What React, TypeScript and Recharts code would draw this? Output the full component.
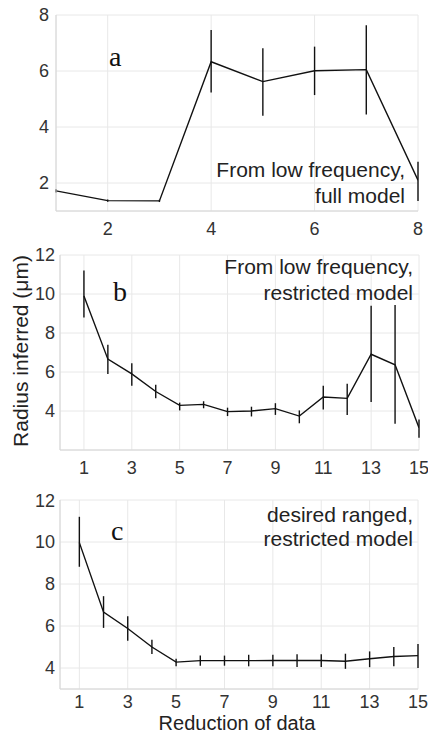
import React from 'react';
import { LineChart, Line, XAxis, YAxis, CartesianGrid, ErrorBar } from 'recharts';

const aX = [1, 2, 3, 4, 5, 6, 7, 8];
const aMean = [1.72, 1.37, 1.36, 6.33, 5.62, 6.01, 6.05, 2.1];
const aLow = [1.66, 1.33, 1.32, 5.23, 4.4, 5.14, 4.45, 1.36];
const aHigh = [1.78, 1.41, 1.4, 7.46, 6.81, 6.87, 7.63, 2.76];

const bcX = [1, 2, 3, 4, 5, 6, 7, 8, 9, 10, 11, 12, 13, 14, 15];
const bMean = [9.9, 6.66, 5.9, 5.0, 4.29, 4.34, 3.97, 4.0, 4.12, 3.74, 4.72, 4.65, 6.91, 6.37, 3.14];
const bLow = [8.8, 5.9, 5.3, 4.65, 4.03, 4.14, 3.74, 3.72, 3.8, 3.37, 4.08, 3.8, 4.46, 3.35, 2.63];
const bHigh = [11.2, 7.4, 6.45, 5.35, 4.43, 4.5, 4.17, 4.22, 4.4, 4.03, 5.3, 5.4, 9.4, 9.43, 3.57];

const cMean = [9.97, 6.66, 5.88, 5.0, 4.28, 4.35, 4.35, 4.35, 4.36, 4.36, 4.36, 4.32, 4.44, 4.55, 4.59];
const cLow = [8.82, 5.91, 5.3, 4.67, 4.08, 4.11, 4.11, 4.08, 4.08, 4.05, 4.05, 3.96, 4.04, 4.08, 4.0];
const cHigh = [11.2, 7.42, 6.46, 5.35, 4.44, 4.59, 4.59, 4.63, 4.63, 4.66, 4.66, 4.68, 4.79, 5.0, 5.14];

const aXTicks = [2, 4, 6, 8];
const aYTicks = [2, 4, 6, 8];
const bcXTicks = [1, 3, 5, 7, 9, 11, 13, 15];
const bcYTicks = [4, 6, 8, 10, 12];

const build = (xs: number[], m: number[], lo: number[], hi: number[]) =>
  xs.map((x, i) => ({ x, y: m[i], err: [m[i] - lo[i], hi[i] - m[i]] }));

const aData = build(aX, aMean, aLow, aHigh);
const bData = build(bcX, bMean, bLow, bHigh);
const cData = build(bcX, cMean, cLow, cHigh);

const FONT = '"Liberation Sans", Arial, Helvetica, sans-serif';
const tickStyle = { fill: '#333', fontSize: 18, fontFamily: FONT };
const GRID = '#e8e8e8';
const FRAME = '#d6d6d6';

type PanelProps = {
  data: any[];
  top: number;
  height: number;
  margin: any;
  yWidth: number;
  xHeight: number;
  xDomain: [number, number];
  yDomain: [number, number];
  xTicks: number[];
  yTicks: number[];
  yTickMargin: number;
  xTickMargin: number;
};

function Panel(p: PanelProps) {
  return (
    <div style={{ position: 'absolute', left: 0, top: p.top }}>
      <LineChart width={428} height={p.height} data={p.data} margin={p.margin}>
        <CartesianGrid stroke={GRID} strokeWidth={1} />
        <XAxis
          dataKey="x"
          type="number"
          domain={p.xDomain}
          ticks={p.xTicks}
          allowDataOverflow
          height={p.xHeight}
          tickSize={0}
          tickMargin={p.xTickMargin}
          tickLine={false}
          axisLine={{ stroke: FRAME }}
          tick={tickStyle}
        />
        <XAxis
          xAxisId="top"
          orientation="top"
          dataKey="x"
          type="number"
          domain={p.xDomain}
          height={0}
          tick={false}
          tickLine={false}
          axisLine={{ stroke: FRAME }}
        />
        <YAxis
          type="number"
          domain={p.yDomain}
          ticks={p.yTicks}
          allowDataOverflow
          width={p.yWidth}
          tickSize={0}
          tickMargin={p.yTickMargin}
          tickLine={false}
          axisLine={{ stroke: FRAME }}
          tick={tickStyle}
        />
        <YAxis
          yAxisId="right"
          orientation="right"
          type="number"
          domain={p.yDomain}
          width={0}
          tick={false}
          tickLine={false}
          axisLine={{ stroke: FRAME }}
        />
        <Line
          dataKey="y"
          stroke="#111"
          strokeWidth={1.4}
          dot={false}
          isAnimationActive={false}
        >
          <ErrorBar dataKey="err" width={0} stroke="#111" strokeWidth={1.4} direction="y" />
        </Line>
      </LineChart>
    </div>
  );
}

export default function App() {
  const serif = '"Liberation Serif", "Times New Roman", serif';
  const annot = { fill: '#222', fontSize: 21, fontFamily: FONT } as any;
  return (
    <div style={{ position: 'absolute', left: 0, top: 0, width: 428, height: 736, background: '#fff' }}>
      <Panel
        data={aData}
        top={0}
        height={240}
        margin={{ top: 15, right: 10, bottom: 0, left: 0 }}
        yWidth={56}
        xHeight={29}
        xDomain={[1, 8]}
        yDomain={[1, 8]}
        xTicks={aXTicks}
        yTicks={aYTicks}
        yTickMargin={7}
        xTickMargin={11}
      />
      <Panel
        data={bData}
        top={240}
        height={250}
        margin={{ top: 15, right: 9, bottom: 0, left: 0 }}
        yWidth={60}
        xHeight={40}
        xDomain={[0, 15]}
        yDomain={[2, 12]}
        xTicks={bcXTicks}
        yTicks={bcYTicks}
        yTickMargin={5}
        xTickMargin={11}
      />
      <Panel
        data={cData}
        top={490}
        height={246}
        margin={{ top: 10, right: 10, bottom: 0, left: 0 }}
        yWidth={60}
        xHeight={47}
        xDomain={[0.2, 15]}
        yDomain={[3, 12]}
        xTicks={bcXTicks}
        yTicks={bcYTicks}
        yTickMargin={5}
        xTickMargin={6}
      />
      <svg
        width={428}
        height={736}
        style={{ position: 'absolute', left: 0, top: 0, pointerEvents: 'none' }}
      >
        <text x={109} y={66} fontFamily={serif} fontSize={28} fill="#111">a</text>
        <text x={113} y={301} fontFamily={serif} fontSize={28} fill="#111">b</text>
        <text x={111} y={540} fontFamily={serif} fontSize={28} fill="#111">c</text>

        <text x={405} y={177} textAnchor="end" {...annot}>From low frequency,</text>
        <text x={405} y={203} textAnchor="end" {...annot}>full model</text>

        <text x={413} y={274} textAnchor="end" {...annot}>From low frequency,</text>
        <text x={413} y={300} textAnchor="end" {...annot}>restricted model</text>

        <text x={413} y={522} textAnchor="end" {...annot}>desired ranged,</text>
        <text x={413} y={546} textAnchor="end" {...annot}>restricted model</text>

        <text
          x={0}
          y={0}
          transform="translate(28,351) rotate(-90)"
          textAnchor="middle"
          fill="#222"
          fontSize={21}
          fontFamily={FONT}
        >
          Radius inferred (μm)
        </text>
        <text x={237} y={730} textAnchor="middle" fill="#222" fontSize={20} fontFamily={FONT}>
          Reduction of data
        </text>
      </svg>
    </div>
  );
}
